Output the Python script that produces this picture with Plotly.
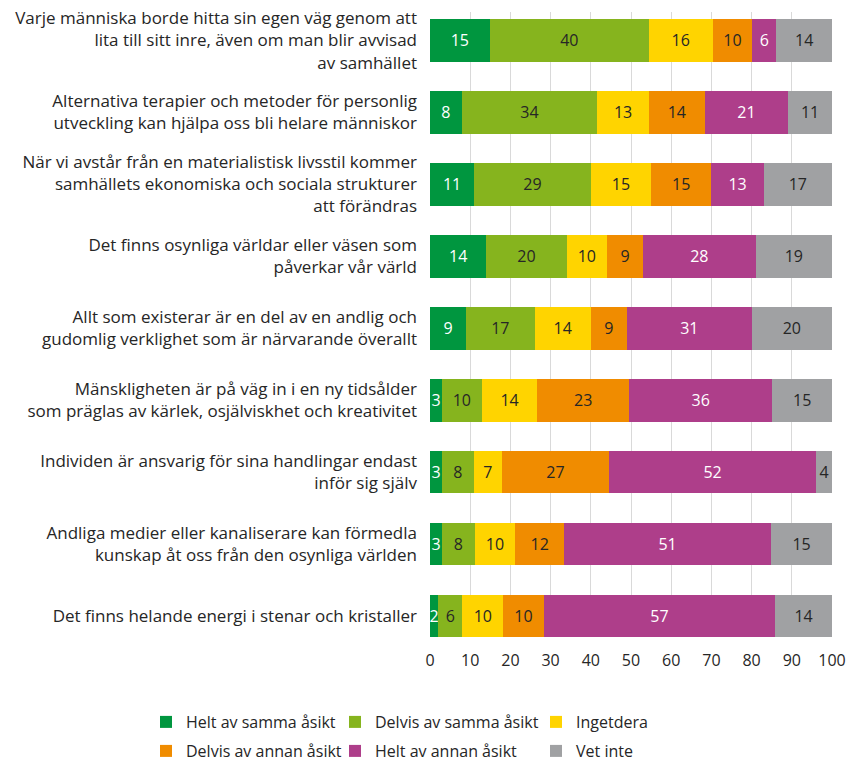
import plotly.graph_objects as go

categories = [
    "Varje människa borde hitta sin egen väg genom att<br>lita till sitt inre, även om man blir avvisad<br>av samhället",
    "Alternativa terapier och metoder för personlig<br>utveckling kan hjälpa oss bli helare människor",
    "När vi avstår från en materialistisk livsstil kommer<br>samhällets ekonomiska och sociala strukturer<br>att förändras",
    "Det finns osynliga världar eller väsen som<br>påverkar vår värld",
    "Allt som existerar är en del av en andlig och<br>gudomlig verklighet som är närvarande överallt",
    "Mänskligheten är på väg in i en ny tidsålder<br>som präglas av kärlek, osjälviskhet och kreativitet",
    "Individen är ansvarig för sina handlingar endast<br>inför sig själv",
    "Andliga medier eller kanaliserare kan förmedla<br>kunskap åt oss från den osynliga världen",
    "Det finns helande energi i stenar och kristaller",
]

series_names = ["Helt av samma åsikt", "Delvis av samma åsikt", "Ingetdera",
                "Delvis av annan åsikt", "Helt av annan åsikt", "Vet inte"]

helt_samma = [15, 8, 11, 14, 9, 3, 3, 3, 2]
delvis_samma = [40, 34, 29, 20, 17, 10, 8, 8, 6]
ingetdera = [16, 13, 15, 10, 14, 14, 7, 10, 10]
delvis_annan = [10, 14, 15, 9, 9, 23, 27, 12, 10]
helt_annan = [6, 21, 13, 28, 31, 36, 52, 51, 57]
vet_inte = [14, 11, 17, 19, 20, 15, 4, 15, 14]

x_ticks = [0, 10, 20, 30, 40, 50, 60, 70, 80, 90, 100]

series_values = [helt_samma, delvis_samma, ingetdera, delvis_annan, helt_annan, vet_inte]
colors = ["#00963F", "#86B41E", "#FFD400", "#F08C00", "#AE3E8A", "#A0A1A3"]
text_colors = ["white", "#262626", "#262626", "#262626", "white", "#262626"]

FONT = "Open Sans"
fig = go.Figure()
legend_names = ["legend", "legend2", "legend3", "legend4", "legend5", "legend6"]
for i, (name, vals) in enumerate(zip(series_names, series_values)):
    fig.add_trace(go.Bar(
        y=categories, x=vals, name=name, orientation="h",
        marker=dict(color=colors[i], line=dict(width=0)),
        text=[str(v) for v in vals], texttemplate="%{text}",
        textposition="inside", insidetextanchor="middle",
        textfont=dict(color=text_colors[i], size=16, family=FONT),
        legend=legend_names[i], hoverinfo="skip",
    ))

W, H = 854, 761
col_x = [146, 335, 536]
row_y = [722, 751]
legends = {}
for i, ln in enumerate(legend_names):
    cx = col_x[i % 3]
    cy = row_y[i // 3]
    legends[ln] = dict(
        x=cx / W, y=1 - cy / H, xref="container", yref="container",
        xanchor="left", yanchor="middle", orientation="h",
        font=dict(size=16, family=FONT, color="#262626"),
        bgcolor="rgba(0,0,0,0)", borderwidth=0,
        itemclick=False, itemdoubleclick=False,
    )

fig.update_layout(
    width=W, height=H,
    barmode="stack", barnorm="percent", bargap=0.41,
    paper_bgcolor="white", plot_bgcolor="white",
    margin=dict(l=430, r=22, t=12, b=124, autoexpand=False),
    font=dict(family=FONT, size=16, color="#262626"),
    uniformtext=dict(minsize=16, mode="show"),
    xaxis=dict(range=[0, 100], tickvals=x_ticks, ticktext=[str(t) for t in x_ticks],
               showgrid=True, gridcolor="#D9D9D9", gridwidth=1, zeroline=False,
               showline=False, ticks="", automargin=False, ticklabelstandoff=12,
               tickfont=dict(size=16, family=FONT, color="#262626")),
    yaxis=dict(range=[8.29, -0.396], showgrid=False, showline=False, ticks="",
               ticklabelstandoff=12, automargin=False,
               tickfont=dict(size=17, family=FONT, color="#262626")),
    showlegend=True,
    **legends,
)

fig.write_html("out.html", config={"displayModeBar": False},
               post_script="document.body.style.margin='0';")
